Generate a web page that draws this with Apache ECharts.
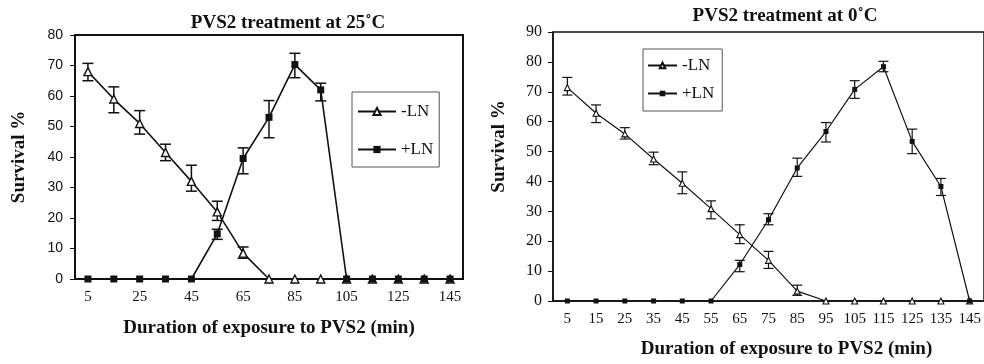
<!DOCTYPE html>
<html>
<head>
<meta charset="utf-8">
<script src="https://cdn.jsdelivr.net/npm/echarts@6/dist/echarts.min.js"></script>
<style>
html,body{margin:0;padding:0;background:#fff;}
#chart{width:984px;height:364px;}
</style>
</head>
<body>
<div id="chart"></div>
<script>
// ---- data ----
var categories = ['5','15','25','35','45','55','65','75','85','95','105','115','125','135','145'];

// Left panel: PVS2 treatment at 25˚C
var leftMinusLN = [68, 59, 51, 41.5, 32, 22, 8.5, 0, 0, 0, 0, 0, 0, 0, 0];
var leftMinusLow = [65, 54.5, 47.5, 38.8, 28.8, 19.2, 6.8, null, null, null, null, null, null, null, null];
var leftMinusHigh = [70.7, 63, 55.2, 44.2, 37.3, 25.5, 10.5, null, null, null, null, null, null, null, null];
var leftPlusLN = [0, 0, 0, 0, 0, 14.8, 39.5, 53, 70.3, 62, 0, 0, 0, 0, 0];
var leftPlusLow = [null, null, null, null, null, 13, 34.5, 46.3, 66, 58.4, null, null, null, null, null];
var leftPlusHigh = [null, null, null, null, null, 16.3, 43, 58.5, 74, 64.2, null, null, null, null, null];

// Right panel: PVS2 treatment at 0˚C
var rightMinusLN = [71.4, 62.8, 55.9, 47.5, 39.4, 30.9, 22.2, 13.6, 3.3, 0, 0, 0, 0, 0, 0];
var rightMinusLow = [68.9, 59.7, 54.2, 45.6, 35.9, 27.5, 19.2, 10.9, 1.9, null, null, null, null, null, null];
var rightMinusHigh = [74.8, 65.6, 58, 49.8, 43.2, 33.5, 25.5, 16.6, 5.3, null, null, null, null, null, null];
var rightPlusLN = [0, 0, 0, 0, 0, 0, 12.2, 27.2, 44.5, 56.7, 70.8, 78.4, 53.4, 38.3, 0];
var rightPlusLow = [null, null, null, null, null, null, 9.8, 25.5, 41.7, 53.2, 67.8, 76.7, 49.3, 35.3, null];
var rightPlusHigh = [null, null, null, null, null, null, 13.6, 29.2, 47.8, 59.7, 73.7, 80.2, 57.5, 41, null];

var leftYTicks = {min: 0, max: 80, interval: 10};
var rightYTicks = {min: 0, max: 90, interval: 10};

// ---- helpers ----
function errData(lo, hi) {
  var out = [];
  for (var i = 0; i < lo.length; i++) {
    if (lo[i] != null && hi[i] != null) out.push([i, lo[i], hi[i]]);
  }
  return out;
}
function errSeries(data, xi, yi, cap, lw) {
  return {
    type: 'custom', xAxisIndex: xi, yAxisIndex: yi, z: 3, silent: true,
    data: data,
    renderItem: function (params, api) {
      var i = api.value(0);
      var p1 = api.coord([i, api.value(1)]);
      var p2 = api.coord([i, api.value(2)]);
      var st = {stroke: '#111', lineWidth: lw};
      return {type: 'group', children: [
        {type: 'line', shape: {x1: p1[0], y1: p1[1], x2: p2[0], y2: p2[1]}, style: st},
        {type: 'line', shape: {x1: p1[0] - cap, y1: p1[1], x2: p1[0] + cap, y2: p1[1]}, style: st},
        {type: 'line', shape: {x1: p2[0] - cap, y1: p2[1], x2: p2[0] + cap, y2: p2[1]}, style: st}
      ]};
    }
  };
}

var SERIF = 'Liberation Serif';
var SANS = 'Liberation Sans';
var INK = '#111';

var chart = echarts.init(document.getElementById('chart'), null, {renderer: 'canvas'});
var option = {
  backgroundColor: '#fff',
  animation: false,
  title: [
    {text: 'PVS2 treatment at 25˚C', left: 283, top: 9, textAlign: 'center',
      textStyle: {fontFamily: SERIF, fontWeight: 'bold', fontSize: 19, color: INK}},
    {text: 'PVS2 treatment at 0˚C', left: 780, top: 2, textAlign: 'center',
      textStyle: {fontFamily: SERIF, fontWeight: 'bold', fontSize: 19, color: INK}}
  ],
  legend: [
    {data: ['-LN', '+LN'], orient: 'vertical', left: 352, top: 92,
      padding: [11, 6, 9, 5], itemGap: 21, itemWidth: 38, itemHeight: 9,
      borderColor: '#555', borderWidth: 1, backgroundColor: '#fff',
      textStyle: {fontFamily: SERIF, fontSize: 17, color: INK, lineHeight: 17}},
    {data: ['-LN', '+LN'], orient: 'vertical', left: 643, top: 49,
      padding: [8, 8, 9, 4], itemGap: 11, itemWidth: 29, itemHeight: 7,
      borderColor: '#555', borderWidth: 1, backgroundColor: '#fff',
      textStyle: {fontFamily: SERIF, fontSize: 17, color: INK, lineHeight: 17}}
  ],
  grid: [
    {left: 75, right: 521, top: 35, bottom: 85, show: true, borderColor: INK, borderWidth: 2, backgroundColor: 'transparent'},
    {left: 553, right: -3, top: 32, bottom: 62, show: true, borderColor: INK, borderWidth: 1.5, backgroundColor: 'transparent'}
  ],
  xAxis: [
    {type: 'category', gridIndex: 0, data: categories, boundaryGap: true,
      axisLine: {lineStyle: {color: INK, width: 2}},
      axisTick: {alignWithLabel: false, interval: 0, length: 5, lineStyle: {color: INK, width: 1}},
      axisLabel: {interval: 1, margin: 11, fontFamily: SERIF, fontSize: 15, color: INK},
      name: 'Duration of exposure to PVS2 (min)', nameLocation: 'middle', nameGap: 40,
      nameTextStyle: {fontFamily: SERIF, fontWeight: 'bold', fontSize: 19, color: INK}},
    {type: 'category', gridIndex: 1, data: categories, boundaryGap: true,
      axisLine: {lineStyle: {color: INK, width: 1.5}},
      axisTick: {alignWithLabel: false, interval: 0, length: 5, lineStyle: {color: INK, width: 1}},
      axisLabel: {interval: 0, margin: 11, fontFamily: SERIF, fontSize: 15, color: INK},
      name: 'Duration of exposure to PVS2 (min)', nameLocation: 'middle', nameGap: 39,
      nameTextStyle: {fontFamily: SERIF, fontWeight: 'bold', fontSize: 19, color: INK, padding: [0, 0, 0, 36]}}
  ],
  yAxis: [
    {type: 'value', gridIndex: 0, min: leftYTicks.min, max: leftYTicks.max, interval: leftYTicks.interval,
      axisLine: {show: true, lineStyle: {color: INK, width: 2}},
      axisTick: {show: true, length: 5, lineStyle: {color: INK, width: 1}},
      splitLine: {show: false},
      axisLabel: {margin: 12, fontFamily: SANS, fontSize: 14, color: INK},
      name: 'Survival %', nameLocation: 'middle', nameGap: 46, nameRotate: 90,
      nameTextStyle: {fontFamily: SERIF, fontWeight: 'bold', fontSize: 19, color: INK}},
    {type: 'value', gridIndex: 1, min: rightYTicks.min, max: rightYTicks.max, interval: rightYTicks.interval,
      axisLine: {show: true, lineStyle: {color: INK, width: 1.5}},
      axisTick: {show: true, length: 5, lineStyle: {color: INK, width: 1}},
      splitLine: {show: false},
      axisLabel: {margin: 11, fontFamily: SERIF, fontSize: 16, color: INK},
      name: 'Survival %', nameLocation: 'middle', nameGap: 44, nameRotate: 90,
      nameTextStyle: {fontFamily: SERIF, fontWeight: 'bold', fontSize: 19, color: INK, padding: [0, 0, 0, 40]}}
  ],
  series: [
    errSeries(errData(leftMinusLow, leftMinusHigh), 0, 0, 5.5, 1.5),
    errSeries(errData(leftPlusLow, leftPlusHigh), 0, 0, 5.5, 1.5),
    errSeries(errData(rightMinusLow, rightMinusHigh), 1, 1, 5, 1.2),
    errSeries(errData(rightPlusLow, rightPlusHigh), 1, 1, 5, 1.2),
    {name: '-LN', type: 'line', xAxisIndex: 0, yAxisIndex: 0, data: leftMinusLN, z: 4,
      symbol: 'triangle', symbolSize: 8, showAllSymbol: true,
      lineStyle: {color: INK, width: 1.6}, itemStyle: {color: '#fff', borderColor: INK, borderWidth: 1.4}},
    {name: '+LN', type: 'line', xAxisIndex: 0, yAxisIndex: 0, data: leftPlusLN, z: 5,
      symbol: 'rect', symbolSize: 7, showAllSymbol: true,
      lineStyle: {color: INK, width: 1.6}, itemStyle: {color: INK, borderColor: INK, borderWidth: 0}},
    {name: '-LN', type: 'line', xAxisIndex: 1, yAxisIndex: 1, data: rightMinusLN, z: 4,
      symbol: 'triangle', symbolSize: 6, showAllSymbol: true,
      lineStyle: {color: INK, width: 1.2}, itemStyle: {color: '#fff', borderColor: INK, borderWidth: 1.1}},
    {name: '+LN', type: 'line', xAxisIndex: 1, yAxisIndex: 1, data: rightPlusLN, z: 5,
      symbol: 'rect', symbolSize: 5, showAllSymbol: true,
      lineStyle: {color: INK, width: 1.2}, itemStyle: {color: INK, borderColor: INK, borderWidth: 0}}
  ]
};
chart.setOption(option);
</script>
</body>
</html>
